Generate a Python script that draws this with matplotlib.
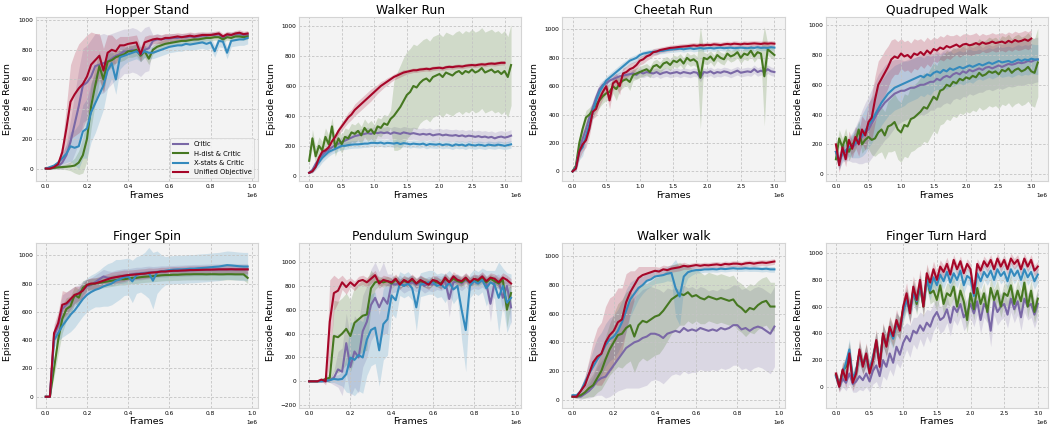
import matplotlib
matplotlib.use("Agg")
import matplotlib.pyplot as plt
import numpy as np

# evaluation returns, mean and spread per method, sampled every `step` frames
LABELS = ["Critic", "H-dist & Critic", "X-stats & Critic", "Unified Objective"]
COLORS = ["#7A68A6", "#467821", "#348ABD", "#A60628"]

# ---------------- Hopper Stand (every 20k frames)
hopper_critic = [0, 0, 5, 15, 40, 90, 180, 300, 420, 560,
                 580, 620, 690, 700, 710, 720, 740, 760, 770, 790,
                 790, 800, 790, 770, 800, 810, 860, 870, 870, 875,
                 875, 880, 880, 885, 885, 890, 885, 890, 895, 895,
                 900, 900, 905, 880, 900, 900, 905, 905, 900, 900]
hopper_critic_sd = [0, 5, 10, 20, 40, 80, 150, 200, 250, 250,
                    250, 250, 220, 200, 200, 180, 170, 160, 160, 150,
                    150, 150, 150, 150, 150, 150, 40, 40, 30, 30,
                    30, 30, 25, 25, 25, 25, 25, 25, 25, 20,
                    20, 20, 20, 20, 20, 20, 20, 20, 20, 20]
hopper_hdist = [0, 0, 5, 8, 10, 12, 15, 20, 40, 90,
                200, 420, 560, 690, 600, 720, 730, 750, 760, 770,
                790, 790, 800, 760, 790, 740, 800, 820, 830, 840,
                845, 850, 855, 860, 860, 865, 870, 870, 875, 880,
                880, 885, 885, 870, 885, 880, 890, 890, 885, 890]
hopper_hdist_sd = [0, 5, 5, 10, 15, 20, 30, 50, 80, 120,
                   150, 150, 120, 100, 80, 60, 50, 40, 40, 40,
                   40, 40, 40, 40, 40, 40, 30, 30, 30, 30,
                   25, 25, 25, 25, 25, 25, 25, 25, 20, 20,
                   20, 20, 20, 20, 20, 20, 20, 20, 20, 20]
hopper_xstats = [0, 10, 20, 40, 70, 100, 150, 140, 150, 250,
                 270, 380, 440, 500, 560, 660, 710, 600, 750, 760,
                 770, 780, 790, 770, 790, 780, 780, 790, 800, 810,
                 820, 825, 830, 830, 840, 835, 840, 845, 850, 840,
                 850, 790, 860, 855, 780, 860, 865, 870, 870, 880]
hopper_xstats_sd = [0, 5, 10, 20, 40, 60, 100, 120, 150, 180,
                    200, 200, 200, 180, 160, 120, 100, 100, 80, 60,
                    50, 50, 50, 50, 40, 40, 40, 40, 40, 40,
                    40, 40, 40, 40, 40, 40, 40, 40, 40, 40,
                    40, 40, 40, 40, 40, 40, 40, 40, 40, 40]
hopper_unified = [0, 0, 10, 30, 110, 270, 450, 500, 540, 570,
                  620, 700, 730, 760, 660, 780, 800, 790, 830, 830,
                  840, 845, 850, 770, 850, 860, 870, 875, 870, 880,
                  880, 885, 890, 885, 890, 895, 890, 895, 900, 900,
                  900, 905, 910, 890, 905, 900, 910, 915, 905, 910]
hopper_unified_sd = [0, 5, 10, 20, 60, 150, 250, 280, 300, 300,
                     280, 220, 180, 150, 150, 120, 100, 80, 60, 60,
                     50, 50, 50, 50, 40, 40, 30, 30, 30, 30,
                     30, 25, 25, 25, 25, 25, 25, 25, 20, 20,
                     20, 20, 20, 20, 20, 20, 20, 20, 20, 20]

# ---------------- Walker Run (every 50k frames)
walker_run_critic = [20, 40, 80, 110, 140, 160, 175, 190, 205, 215,
                     225, 235, 245, 255, 265, 270, 275, 280, 285, 280,
                     290, 285, 290, 285, 290, 280, 290, 285, 280, 290,
                     285, 280, 285, 280, 275, 280, 275, 280, 270, 275,
                     278, 270, 275, 270, 268, 272, 265, 270, 262, 268,
                     265, 260, 265, 258, 262, 255, 260, 250, 258, 262,
                     255, 260, 268]
walker_run_critic_sd = [5, 10, 20, 30, 30, 30, 30, 30, 30, 30,
                        35, 35, 35, 35, 40, 40, 40, 40, 40, 40,
                        40, 40, 40, 40, 40, 40, 40, 40, 40, 40,
                        40, 40, 40, 40, 40, 40, 40, 40, 40, 40,
                        40, 40, 40, 40, 40, 40, 40, 40, 40, 40,
                        40, 40, 40, 40, 40, 40, 40, 40, 40, 40,
                        40, 40, 40]
walker_run_hdist = [100, 250, 130, 200, 170, 260, 210, 330, 190, 250,
                    210, 260, 250, 290, 280, 300, 270, 320, 290, 310,
                    280, 330, 320, 350, 340, 380, 400, 430, 460, 500,
                    540, 560, 600, 590, 620, 640, 650, 630, 660, 670,
                    680, 660, 690, 680, 670, 690, 700, 680, 700, 690,
                    710, 690, 700, 720, 690, 700, 710, 690, 700, 680,
                    700, 660, 740]
walker_run_hdist_sd = [20, 60, 60, 60, 60, 60, 60, 60, 60, 60,
                       60, 60, 60, 60, 60, 60, 60, 60, 60, 60,
                       60, 60, 60, 60, 60, 60, 230, 260, 280, 290,
                       290, 290, 280, 280, 270, 270, 270, 270, 270, 270,
                       270, 270, 270, 270, 270, 270, 270, 270, 270, 270,
                       270, 270, 270, 270, 270, 270, 270, 270, 270, 270,
                       270, 270, 270]
walker_run_xstats = [20, 30, 60, 90, 120, 140, 160, 170, 180, 190,
                     200, 200, 205, 208, 210, 210, 212, 215, 215, 220,
                     220, 218, 222, 215, 220, 218, 215, 220, 212, 218,
                     215, 210, 215, 212, 210, 215, 205, 212, 210, 208,
                     212, 205, 210, 208, 200, 210, 205, 208, 200, 210,
                     205, 202, 208, 205, 200, 208, 205, 202, 208, 205,
                     200, 205, 210]
walker_run_xstats_sd = [5, 10, 20, 30, 30, 30, 30, 25, 25, 25,
                        25, 25, 25, 25, 25, 25, 25, 25, 25, 25,
                        25, 25, 25, 25, 25, 25, 25, 25, 25, 25,
                        25, 25, 25, 25, 25, 25, 25, 25, 25, 25,
                        25, 25, 25, 25, 25, 25, 25, 25, 25, 25,
                        25, 25, 25, 25, 25, 25, 25, 25, 25, 25,
                        25, 25, 25]
walker_run_unified = [20, 30, 60, 120, 160, 170, 190, 230, 260, 300,
                      330, 360, 390, 410, 440, 460, 480, 500, 520, 540,
                      560, 580, 600, 615, 630, 645, 660, 670, 680, 690,
                      695, 700, 705, 705, 710, 712, 715, 712, 718, 720,
                      722, 718, 725, 728, 726, 730, 732, 730, 735, 738,
                      740, 738, 742, 745, 743, 748, 750, 748, 752, 755,
                      755]
walker_run_unified_sd = [5, 10, 15, 20, 20, 20, 20, 25, 25, 25,
                         30, 30, 35, 35, 40, 40, 40, 40, 40, 40,
                         35, 30, 30, 25, 25, 20, 20, 20, 20, 20,
                         15, 15, 15, 15, 15, 15, 15, 15, 15, 15,
                         15, 15, 15, 15, 15, 15, 15, 15, 15, 15,
                         15, 15, 15, 15, 15, 15, 15, 15, 15, 15,
                         15]

# ---------------- Cheetah Run (every 50k frames)
cheetah_critic = [0, 30, 150, 230, 300, 380, 450, 520, 580, 610,
                  620, 640, 650, 660, 670, 675, 680, 685, 690, 680,
                  700, 690, 700, 695, 690, 700, 685, 695, 700, 690,
                  695, 700, 690, 700, 695, 690, 700, 695, 660, 700,
                  695, 705, 690, 700, 695, 705, 700, 690, 700, 710,
                  695, 700, 705, 700, 720, 700, 710, 700, 720, 705,
                  700]
cheetah_critic_sd = [0, 20, 40, 50, 50, 50, 50, 40, 40, 30,
                     30, 30, 30, 30, 30, 30, 30, 30, 30, 30,
                     30, 30, 30, 30, 30, 30, 30, 30, 30, 30,
                     30, 30, 30, 30, 30, 30, 30, 30, 30, 30,
                     30, 30, 30, 30, 30, 30, 30, 30, 30, 30,
                     30, 30, 30, 30, 30, 30, 30, 30, 30, 30,
                     30]
cheetah_hdist = [0, 40, 200, 300, 380, 400, 430, 470, 500, 530,
                 550, 560, 600, 580, 620, 640, 650, 630, 680, 690,
                 700, 710, 720, 700, 740, 750, 730, 760, 770, 750,
                 780, 770, 790, 760, 800, 780, 790, 770, 660, 800,
                 790, 810, 780, 820, 800, 790, 830, 810, 820, 840,
                 800, 830, 820, 850, 810, 840, 830, 670, 860, 840,
                 820]
cheetah_hdist_sd = [0, 20, 40, 50, 50, 50, 50, 50, 50, 50,
                    50, 60, 50, 80, 50, 50, 40, 60, 40, 40,
                    40, 40, 40, 40, 40, 40, 40, 40, 40, 40,
                    40, 40, 40, 40, 40, 40, 40, 40, 360, 40,
                    40, 40, 40, 40, 40, 40, 40, 40, 40, 40,
                    40, 40, 40, 40, 40, 40, 40, 350, 40, 40,
                    40]
cheetah_xstats = [0, 30, 140, 170, 250, 330, 420, 500, 560, 600,
                  640, 660, 680, 700, 720, 740, 760, 780, 790, 800,
                  820, 830, 835, 840, 842, 845, 848, 850, 855, 858,
                  860, 862, 865, 860, 865, 868, 862, 866, 870, 865,
                  868, 870, 866, 870, 872, 868, 870, 872, 868, 870,
                  872, 870, 868, 872, 870, 875, 870, 872, 870, 875,
                  872]
cheetah_xstats_sd = [0, 30, 60, 60, 50, 50, 50, 40, 40, 40,
                     30, 30, 30, 30, 30, 30, 25, 25, 25, 25,
                     20, 20, 20, 20, 20, 20, 20, 20, 20, 20,
                     20, 20, 20, 20, 20, 20, 20, 20, 20, 20,
                     20, 20, 20, 20, 20, 20, 20, 20, 20, 20,
                     20, 20, 20, 20, 20, 20, 20, 20, 20, 20,
                     20]
cheetah_unified = [0, 20, 140, 190, 220, 300, 420, 440, 510, 560,
                   600, 500, 620, 640, 600, 690, 700, 720, 730, 750,
                   780, 790, 810, 820, 840, 845, 855, 860, 865, 870,
                   872, 875, 878, 880, 882, 885, 888, 885, 890, 888,
                   892, 890, 895, 893, 890, 895, 898, 895, 900, 898,
                   895, 900, 898, 900, 902, 900, 898, 902, 900, 902,
                   900]
cheetah_unified_sd = [0, 20, 50, 50, 50, 50, 50, 50, 50, 50,
                      50, 60, 50, 50, 60, 40, 40, 40, 40, 30,
                      30, 30, 30, 25, 25, 25, 20, 20, 20, 20,
                      20, 20, 20, 20, 20, 20, 20, 20, 20, 20,
                      20, 20, 20, 20, 20, 20, 20, 20, 20, 20,
                      20, 20, 20, 20, 20, 20, 20, 20, 20, 20,
                      20]

# ---------------- Quadruped Walk (every 50k frames)
quadruped_critic = [150, 90, 140, 150, 170, 180, 200, 220, 250, 280,
                    300, 340, 380, 420, 450, 480, 500, 520, 540, 550,
                    560, 560, 570, 580, 580, 590, 600, 600, 610, 620,
                    620, 640, 630, 650, 660, 650, 670, 680, 670, 690,
                    680, 700, 690, 700, 710, 700, 715, 720, 710, 720,
                    730, 720, 730, 740, 735, 740, 750, 745, 750, 760,
                    755, 765, 770]
quadruped_critic_sd = [50, 60, 60, 60, 80, 100, 120, 150, 180, 200,
                       220, 230, 240, 250, 250, 250, 250, 240, 230, 220,
                       210, 200, 200, 200, 200, 200, 200, 200, 200, 190,
                       190, 190, 180, 180, 180, 180, 170, 170, 170, 170,
                       160, 160, 160, 160, 160, 150, 150, 150, 150, 150,
                       150, 150, 150, 150, 150, 150, 150, 150, 150, 150,
                       150, 150, 150]
quadruped_hdist = [100, 240, 180, 250, 150, 200, 220, 300, 200, 230,
                   250, 230, 240, 280, 300, 260, 320, 330, 350, 300,
                   280, 330, 320, 370, 380, 400, 420, 450, 440, 480,
                   520, 500, 560, 570, 600, 590, 620, 610, 640, 630,
                   650, 640, 660, 650, 680, 660, 670, 690, 680, 690,
                   670, 700, 690, 710, 680, 700, 710, 690, 700, 720,
                   690, 680, 750]
quadruped_hdist_sd = [50, 60, 60, 60, 60, 60, 60, 60, 60, 60,
                      80, 100, 120, 140, 150, 160, 170, 180, 190, 200,
                      200, 210, 210, 220, 220, 220, 230, 230, 230, 230,
                      230, 230, 230, 230, 230, 230, 230, 230, 230, 230,
                      230, 230, 230, 230, 230, 230, 230, 230, 230, 230,
                      230, 230, 230, 230, 230, 230, 230, 230, 230, 230,
                      230, 230, 230]
quadruped_xstats = [150, 80, 140, 160, 180, 190, 210, 230, 260, 290,
                    330, 360, 400, 440, 480, 510, 540, 560, 580, 590,
                    600, 610, 620, 630, 640, 650, 660, 650, 670, 660,
                    680, 690, 680, 700, 690, 710, 700, 710, 720, 710,
                    720, 730, 720, 730, 740, 730, 740, 750, 740, 750,
                    760, 750, 755, 760, 750, 760, 770, 760, 770, 765,
                    775, 770, 770]
quadruped_xstats_sd = [40, 50, 50, 60, 60, 80, 100, 120, 140, 150,
                       150, 150, 150, 150, 150, 150, 150, 150, 150, 150,
                       150, 150, 140, 140, 140, 140, 130, 130, 130, 130,
                       120, 120, 120, 120, 120, 120, 110, 110, 110, 110,
                       110, 110, 110, 100, 100, 100, 100, 100, 100, 100,
                       100, 100, 100, 100, 100, 100, 100, 100, 100, 100,
                       100, 100, 100]
quadruped_unified = [200, 60, 180, 100, 230, 170, 250, 200, 300, 260,
                     350, 380, 500, 600, 640, 680, 720, 770, 790, 780,
                     810, 790, 800, 780, 810, 800, 820, 800, 830, 810,
                     840, 830, 850, 840, 860, 850, 860, 870, 855, 870,
                     875, 865, 870, 880, 870, 885, 875, 880, 890, 880,
                     885, 890, 880, 895, 885, 900, 890, 895, 905, 895,
                     910]
quadruped_unified_sd = [50, 50, 50, 50, 60, 60, 70, 80, 90, 100,
                        120, 150, 160, 160, 150, 150, 140, 130, 120, 110,
                        100, 100, 100, 100, 100, 100, 90, 90, 90, 90,
                        80, 80, 80, 80, 80, 80, 70, 70, 70, 70,
                        70, 70, 70, 70, 60, 60, 60, 60, 60, 60,
                        60, 60, 60, 60, 60, 60, 60, 60, 60, 60,
                        60]

# ---------------- Finger Spin (every 20k frames)
finger_spin_critic = [0, 0, 430, 500, 620, 650, 680, 710, 730, 760,
                      780, 790, 810, 830, 850, 840, 835, 845, 850, 855,
                      860, 865, 870, 870, 875, 878, 880, 882, 885, 885,
                      888, 888, 890, 890, 892, 893, 895, 895, 896, 897,
                      898, 898, 899, 900, 900, 900, 900, 900, 900, 900]
finger_spin_critic_sd = [0, 0, 60, 80, 100, 90, 80, 70, 60, 60,
                         50, 50, 50, 50, 50, 50, 50, 50, 50, 50,
                         45, 45, 45, 45, 45, 45, 40, 40, 40, 40,
                         40, 40, 40, 40, 40, 40, 40, 40, 40, 40,
                         40, 40, 40, 40, 40, 40, 40, 40, 40, 40]
finger_spin_hdist = [0, 0, 200, 400, 550, 620, 640, 720, 700, 770,
                     790, 795, 800, 805, 810, 815, 820, 825, 830, 830,
                     835, 840, 840, 845, 848, 850, 852, 855, 858, 860,
                     860, 862, 862, 864, 865, 865, 866, 866, 866, 865,
                     866, 866, 865, 865, 866, 866, 865, 865, 865, 840]
finger_spin_hdist_sd = [0, 0, 60, 100, 100, 80, 70, 60, 60, 50,
                        40, 40, 40, 40, 40, 40, 40, 40, 40, 40,
                        40, 40, 40, 40, 40, 40, 40, 40, 40, 40,
                        40, 40, 40, 40, 40, 40, 40, 40, 40, 40,
                        40, 40, 40, 40, 40, 40, 40, 40, 40, 40]
finger_spin_xstats = [0, 0, 400, 450, 500, 540, 580, 610, 650, 690,
                      720, 740, 755, 765, 780, 790, 800, 820, 830, 845,
                      850, 815, 860, 870, 870, 875, 820, 880, 885, 890,
                      895, 898, 900, 900, 902, 905, 905, 908, 910, 912,
                      915, 918, 920, 925, 930, 928, 925, 922, 920, 920]
finger_spin_xstats_sd = [0, 0, 50, 60, 80, 100, 120, 120, 120, 120,
                         120, 120, 120, 130, 140, 150, 150, 150, 140, 130,
                         130, 150, 130, 130, 150, 180, 200, 150, 120, 100,
                         100, 100, 100, 100, 100, 100, 100, 100, 100, 100,
                         100, 100, 100, 100, 100, 100, 100, 100, 100, 100]
finger_spin_unified = [0, 0, 450, 520, 650, 660, 690, 720, 730, 750,
                       790, 800, 800, 810, 820, 830, 840, 845, 850, 855,
                       860, 862, 865, 868, 870, 875, 878, 880, 885, 885,
                       888, 890, 890, 892, 893, 895, 895, 896, 897, 898,
                       898, 899, 900, 900, 900, 901, 900, 900, 900, 900]
finger_spin_unified_sd = [0, 0, 60, 80, 100, 80, 70, 60, 50, 50,
                          40, 40, 40, 40, 40, 40, 40, 40, 40, 40,
                          35, 35, 35, 35, 35, 35, 30, 30, 30, 30,
                          30, 30, 30, 30, 30, 30, 30, 30, 30, 30,
                          30, 30, 30, 30, 30, 30, 30, 30, 30, 30]

# ---------------- Pendulum Swingup (every 20k frames)
pendulum_critic = [0, 0, 0, 0, 0, 10, 30, 100, 80, 320,
                   120, 250, 200, 420, 500, 640, 700, 620, 700, 650,
                   820, 810, 830, 800, 820, 830, 810, 830, 800, 820,
                   810, 830, 820, 840, 690, 830, 840, 820, 850, 820,
                   840, 830, 850, 820, 650, 830, 840, 700, 800, 620]
pendulum_critic_sd = [0, 0, 0, 0, 0, 20, 60, 150, 200, 250,
                      250, 300, 300, 300, 300, 300, 300, 300, 300, 250,
                      80, 60, 60, 60, 60, 60, 60, 60, 60, 60,
                      60, 60, 60, 60, 150, 60, 60, 60, 60, 60,
                      60, 60, 60, 60, 150, 60, 60, 120, 80, 150]
pendulum_hdist = [0, 0, 0, 5, 20, 30, 380, 370, 400, 440,
                  380, 490, 520, 550, 560, 780, 830, 840, 830, 840,
                  820, 850, 820, 840, 830, 850, 820, 840, 830, 820,
                  840, 830, 820, 860, 830, 860, 840, 830, 860, 830,
                  850, 840, 860, 830, 860, 840, 820, 850, 600, 740]
pendulum_hdist_sd = [0, 0, 0, 10, 20, 40, 300, 300, 300, 300,
                     300, 300, 300, 300, 300, 150, 60, 40, 40, 40,
                     40, 40, 40, 40, 40, 40, 40, 40, 40, 40,
                     40, 40, 40, 40, 40, 40, 40, 40, 40, 40,
                     40, 40, 40, 40, 40, 40, 40, 40, 150, 100]
pendulum_xstats = [0, 0, 0, 0, 5, 10, 20, 15, 20, 60,
                   200, 180, 220, 200, 350, 430, 450, 260, 480, 520,
                   720, 680, 820, 800, 820, 780, 620, 810, 820, 830,
                   830, 800, 810, 780, 830, 770, 800, 600, 430, 800,
                   840, 820, 850, 780, 830, 810, 700, 800, 660, 700]
pendulum_xstats_sd = [0, 0, 0, 0, 10, 20, 30, 40, 60, 150,
                      300, 300, 300, 300, 300, 300, 300, 300, 300, 300,
                      150, 150, 100, 100, 100, 100, 200, 100, 100, 100,
                      100, 100, 100, 120, 100, 120, 100, 250, 350, 100,
                      100, 100, 100, 150, 100, 120, 300, 150, 250, 200]
pendulum_unified = [0, 0, 0, 15, 0, 500, 740, 760, 830, 790,
                    830, 800, 840, 850, 830, 860, 890, 820, 850, 840,
                    830, 860, 810, 850, 830, 860, 820, 850, 830, 810,
                    850, 840, 810, 870, 830, 880, 850, 840, 870, 830,
                    860, 850, 880, 840, 870, 860, 830, 870, 850, 820]
pendulum_unified_sd = [0, 0, 0, 10, 30, 350, 150, 100, 60, 60,
                       40, 40, 40, 40, 40, 40, 40, 40, 40, 40,
                       40, 40, 40, 40, 40, 40, 40, 40, 40, 40,
                       40, 40, 40, 40, 40, 40, 40, 40, 40, 40,
                       40, 40, 40, 40, 40, 40, 40, 40, 40, 40]

# ---------------- Walker walk (every 20k frames)
walker_walk_critic = [20, 20, 20, 40, 60, 90, 130, 150, 160, 200,
                      240, 280, 320, 360, 380, 400, 410, 430, 440, 460,
                      460, 450, 430, 460, 470, 480, 470, 500, 480, 490,
                      480, 500, 490, 480, 490, 480, 500, 490, 500, 520,
                      520, 490, 500, 480, 500, 510, 500, 480, 460, 510]
walker_walk_critic_sd = [5, 10, 20, 30, 50, 70, 100, 120, 150, 180,
                         200, 220, 250, 280, 300, 320, 330, 340, 340, 330,
                         320, 320, 320, 320, 300, 300, 300, 300, 300, 300,
                         290, 290, 290, 280, 280, 280, 280, 280, 280, 280,
                         280, 280, 280, 280, 280, 280, 280, 280, 280, 280]
walker_walk_hdist = [20, 20, 30, 50, 80, 100, 150, 200, 280, 350,
                     400, 450, 460, 500, 520, 440, 520, 550, 540, 560,
                     580, 590, 620, 660, 700, 720, 740, 730, 750, 720,
                     730, 710, 700, 720, 710, 700, 710, 700, 690, 700,
                     660, 640, 610, 640, 630, 660, 680, 690, 650, 650]
walker_walk_hdist_sd = [5, 10, 20, 40, 60, 80, 100, 130, 160, 180,
                        200, 220, 240, 250, 250, 250, 260, 260, 270, 270,
                        270, 270, 260, 250, 240, 230, 220, 210, 200, 190,
                        180, 180, 170, 170, 170, 170, 170, 170, 170, 170,
                        170, 170, 170, 170, 170, 170, 170, 170, 170, 170]
walker_walk_xstats = [30, 30, 60, 120, 180, 230, 280, 320, 380, 420,
                      440, 480, 540, 620, 700, 740, 780, 800, 830, 840,
                      860, 865, 870, 880, 885, 780, 720, 860, 890, 900,
                      905, 905, 910, 910, 912, 910, 915, 912, 915, 918,
                      915, 915, 918, 915, 916, 915, 912, 915, 910, 910]
walker_walk_xstats_sd = [10, 10, 20, 40, 80, 120, 150, 150, 150, 150,
                         150, 150, 150, 150, 120, 100, 80, 60, 60, 50,
                         50, 50, 50, 50, 60, 200, 200, 80, 40, 30,
                         20, 20, 20, 20, 20, 20, 20, 20, 20, 20,
                         20, 20, 20, 20, 20, 20, 20, 20, 20, 20]
walker_walk_unified = [20, 20, 60, 100, 180, 260, 300, 320, 400, 450,
                       480, 540, 560, 680, 750, 800, 850, 870, 880, 890,
                       900, 895, 910, 905, 915, 920, 925, 935, 930, 935,
                       940, 935, 940, 938, 942, 945, 940, 948, 945, 950,
                       950, 945, 952, 955, 950, 955, 958, 955, 960, 965]
walker_walk_unified_sd = [5, 10, 30, 60, 100, 150, 200, 220, 250, 260,
                          250, 240, 220, 200, 150, 100, 80, 60, 50, 40,
                          30, 30, 30, 30, 25, 25, 25, 25, 20, 20,
                          20, 20, 20, 20, 20, 20, 20, 20, 20, 20,
                          20, 20, 20, 20, 20, 20, 20, 20, 20, 20]

# ---------------- Finger Turn Hard (every 50k frames)
finger_turn_critic = [80, 0, 60, 30, 100, 20, 40, 80, 50, 100,
                      40, 120, 160, 80, 200, 150, 250, 180, 300, 240,
                      330, 380, 340, 420, 400, 460, 420, 480, 450, 520,
                      560, 500, 520, 580, 480, 600, 560, 620, 520, 560,
                      620, 550, 640, 500, 620, 580, 420, 640, 560, 600,
                      620, 540, 660, 580, 640, 520, 660, 600, 620, 540,
                      620]
finger_turn_critic_sd = [40, 40, 60, 60, 80, 60, 80, 100, 80, 100,
                         80, 100, 120, 100, 120, 100, 120, 100, 120, 100,
                         120, 100, 120, 100, 120, 100, 120, 100, 120, 100,
                         100, 100, 100, 100, 100, 100, 100, 100, 100, 100,
                         100, 100, 100, 100, 100, 100, 120, 100, 100, 100,
                         100, 100, 100, 100, 100, 100, 100, 100, 100, 100,
                         100]
finger_turn_hdist = [90, 10, 120, 150, 260, 50, 110, 260, 160, 240,
                     120, 210, 340, 170, 390, 310, 440, 370, 470, 440,
                     580, 660, 570, 720, 620, 760, 600, 820, 700, 720,
                     650, 760, 620, 700, 680, 750, 600, 720, 640, 500,
                     700, 580, 740, 620, 700, 560, 740, 650, 720, 600,
                     700, 680, 760, 620, 720, 640, 780, 600, 720, 560,
                     660]
finger_turn_hdist_sd = [40, 40, 60, 60, 80, 60, 60, 80, 60, 80,
                        60, 80, 80, 60, 80, 80, 80, 80, 80, 80,
                        80, 80, 80, 80, 80, 80, 80, 80, 80, 80,
                        80, 80, 80, 80, 80, 80, 80, 80, 80, 100,
                        80, 80, 80, 80, 80, 80, 80, 80, 80, 80,
                        80, 80, 80, 80, 80, 80, 80, 80, 80, 80,
                        80]
finger_turn_xstats = [80, 20, 100, 180, 280, 60, 120, 250, 160, 230,
                      130, 220, 330, 180, 380, 320, 420, 360, 480, 430,
                      560, 650, 560, 700, 640, 760, 620, 800, 720, 820,
                      760, 840, 790, 860, 780, 850, 800, 870, 760, 830,
                      810, 680, 850, 790, 860, 820, 870, 800, 880, 830,
                      860, 790, 880, 830, 870, 800, 880, 820, 860, 790,
                      840]
finger_turn_xstats_sd = [40, 40, 60, 60, 80, 60, 60, 80, 60, 80,
                         60, 80, 80, 60, 80, 80, 80, 80, 80, 80,
                         80, 80, 80, 80, 80, 80, 70, 70, 70, 70,
                         60, 60, 60, 60, 60, 60, 60, 60, 60, 60,
                         60, 80, 60, 60, 60, 60, 60, 60, 60, 60,
                         60, 60, 60, 60, 60, 60, 60, 60, 60, 60,
                         60]
finger_turn_unified = [100, 0, 130, 50, 250, 30, 100, 280, 150, 250,
                       100, 200, 350, 150, 400, 300, 450, 380, 500, 420,
                       600, 700, 550, 750, 650, 800, 600, 850, 780, 880,
                       800, 900, 860, 920, 840, 950, 880, 940, 850, 920,
                       880, 700, 920, 870, 940, 900, 950, 880, 960, 900,
                       950, 880, 960, 920, 950, 880, 960, 900, 950, 870,
                       900]
finger_turn_unified_sd = [40, 40, 60, 60, 80, 60, 60, 80, 60, 80,
                          60, 80, 80, 60, 80, 80, 80, 80, 80, 80,
                          80, 80, 80, 80, 80, 80, 70, 70, 60, 60,
                          60, 50, 50, 50, 50, 40, 40, 40, 40, 40,
                          40, 60, 40, 40, 40, 40, 40, 40, 40, 40,
                          40, 40, 40, 40, 40, 40, 40, 40, 40, 40,
                          40]

panels = [
    ("Hopper Stand", 20000, (-87, 1022),
     [(hopper_critic, hopper_critic_sd), (hopper_hdist, hopper_hdist_sd),
      (hopper_xstats, hopper_xstats_sd), (hopper_unified, hopper_unified_sd)]),
    ("Walker Run", 50000, (-38, 1062),
     [(walker_run_critic, walker_run_critic_sd), (walker_run_hdist, walker_run_hdist_sd),
      (walker_run_xstats, walker_run_xstats_sd), (walker_run_unified, walker_run_unified_sd)]),
    ("Cheetah Run", 50000, (-71, 1089),
     [(cheetah_critic, cheetah_critic_sd), (cheetah_hdist, cheetah_hdist_sd),
      (cheetah_xstats, cheetah_xstats_sd), (cheetah_unified, cheetah_unified_sd)]),
    ("Quadruped Walk", 50000, (-49, 1056),
     [(quadruped_critic, quadruped_critic_sd), (quadruped_hdist, quadruped_hdist_sd),
      (quadruped_xstats, quadruped_xstats_sd), (quadruped_unified, quadruped_unified_sd)]),
    ("Finger Spin", 20000, (-78, 1085),
     [(finger_spin_critic, finger_spin_critic_sd), (finger_spin_hdist, finger_spin_hdist_sd),
      (finger_spin_xstats, finger_spin_xstats_sd), (finger_spin_unified, finger_spin_unified_sd)]),
    ("Pendulum Swingup", 20000, (-222, 1158),
     [(pendulum_critic, pendulum_critic_sd), (pendulum_hdist, pendulum_hdist_sd),
      (pendulum_xstats, pendulum_xstats_sd), (pendulum_unified, pendulum_unified_sd)]),
    ("Walker walk", 20000, (-58, 1093),
     [(walker_walk_critic, walker_walk_critic_sd), (walker_walk_hdist, walker_walk_hdist_sd),
      (walker_walk_xstats, walker_walk_xstats_sd), (walker_walk_unified, walker_walk_unified_sd)]),
    ("Finger Turn Hard", 50000, (-157, 1075),
     [(finger_turn_critic, finger_turn_critic_sd), (finger_turn_hdist, finger_turn_hdist_sd),
      (finger_turn_xstats, finger_turn_xstats_sd), (finger_turn_unified, finger_turn_unified_sd)]),
]

plt.style.use("bmh")
plt.rcParams.update({
    "axes.facecolor": "#f3f3f3",
    "axes.edgecolor": "#d4d4d4",
    "grid.color": "#c4c4c4",
    "grid.linestyle": (0, (3, 2)),
    "grid.linewidth": 0.6,
})

fig, axes = plt.subplots(2, 4, figsize=(10.5, 4.32), dpi=100)
fig.subplots_adjust(left=0.034, right=0.998, top=0.961, bottom=0.056,
                    wspace=0.186, hspace=0.375)

for ax, (title, step, ylim, series) in zip(axes.flat, panels):
    for (mean, sd), color, label in zip(series, COLORS, LABELS):
        mean = np.array(mean, dtype=float)
        sd = np.array(sd, dtype=float)
        frames = np.arange(len(mean)) * step
        ax.fill_between(frames, mean - sd, mean + sd, color=color, alpha=0.2, lw=0)
        ax.plot(frames, mean, color=color, lw=1.5, label=label)
    ax.set_title(title, fontsize=8.8, pad=2)
    ax.set_xlabel("Frames", fontsize=6.8, labelpad=1)
    ax.set_ylabel("Episode Return", fontsize=6.8)
    ax.set_ylim(*ylim)
    ax.tick_params(labelsize=4.2, length=0, pad=2)
    ax.xaxis.get_offset_text().set_fontsize(4.2)

axes[0, 0].legend(loc="lower right", fontsize=4.9, handlelength=2.3, framealpha=0.9)

fig.savefig("out.png", dpi=100)
